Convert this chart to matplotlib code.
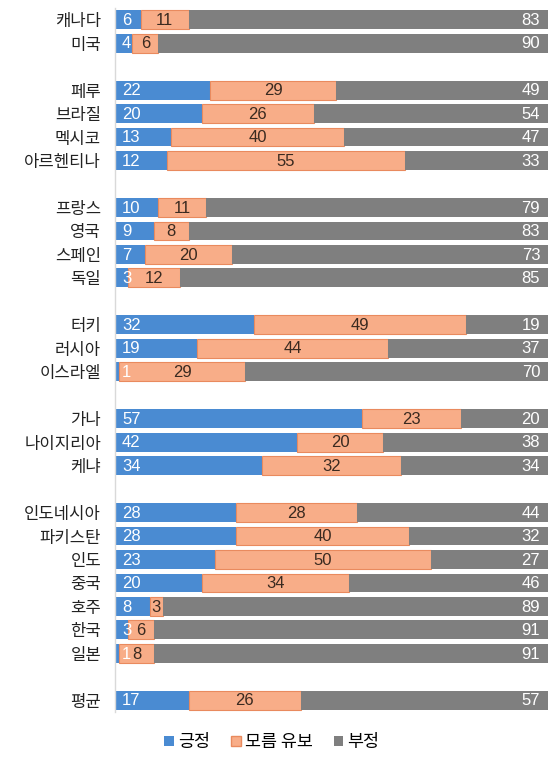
import matplotlib
matplotlib.use("Agg")
import matplotlib.pyplot as plt
from matplotlib.patches import Patch

plt.rcParams['font.family'] = ['Noto Sans CJK KR', 'DejaVu Sans']

countries = ['캐나다', '미국', None, '페루', '브라질', '멕시코', '아르헨티나', None,
             '프랑스', '영국', '스페인', '독일', None, '터키', '러시아', '이스라엘', None,
             '가나', '나이지리아', '케냐', None, '인도네시아', '파키스탄', '인도', '중국',
             '호주', '한국', '일본', None, '평균']
positive = [6, 4, None, 22, 20, 13, 12, None, 10, 9, 7, 3, None, 32, 19, 1, None,
            57, 42, 34, None, 28, 28, 23, 20, 8, 3, 1, None, 17]
neutral = [11, 6, None, 29, 26, 40, 55, None, 11, 8, 20, 12, None, 49, 44, 29, None,
           23, 20, 32, None, 28, 40, 50, 34, 3, 6, 8, None, 26]
negative = [83, 90, None, 49, 54, 47, 33, None, 79, 83, 73, 85, None, 19, 37, 70, None,
            20, 38, 34, None, 44, 32, 27, 46, 89, 91, 91, None, 57]
legend_labels = ['긍정', '모름 유보', '부정']

c_pos = '#4a8bd2'
c_neu = '#f8ad88'
c_neu_edge = '#e98a5e'
c_neg = '#7f7f7f'

fig = plt.figure(figsize=(5.55, 7.63), dpi=100)
ax = fig.add_axes([115/555, 1 - 712/763, (548-115)/555, (712-8)/763])

num_font = ['Liberation Sans Narrow', 'Liberation Sans', 'DejaVu Sans']
h = 0.8
for i, name in enumerate(countries):
    if name is None:
        continue
    p, n, g = positive[i], neutral[i], negative[i]
    ax.barh(i, p, height=h, color=c_pos, linewidth=0)
    ax.barh(i, n, left=p, height=h, color=c_neu, edgecolor=c_neu_edge, linewidth=0.8)
    ax.barh(i, g, left=p + n, height=h, color=c_neg, linewidth=0)
    ax.text(1.6, i + 0.03, str(p), ha='left', va='center', color='white',
            fontsize=12, family=num_font)
    ax.text(p + n / 2, i + 0.03, str(n), ha='center', va='center', color='#3a2a20',
            fontsize=12, family=num_font)
    ax.text(98.2, i + 0.03, str(g), ha='right', va='center', color='white',
            fontsize=12, family=num_font)

ax.set_xlim(0, 100)
ax.set_ylim(len(countries) - 0.5, -0.5)
ticks = [i for i, c in enumerate(countries) if c is not None]
ax.set_yticks(ticks)
ax.set_yticklabels([countries[i] for i in ticks], fontsize=12, color='#222222')
ax.tick_params(axis='y', length=0, pad=10)
ax.set_xticks([])
for s in ['top', 'right', 'bottom']:
    ax.spines[s].set_visible(False)
ax.spines['left'].set_color('#d9d9d9')
ax.spines['left'].set_linewidth(1)

handles = [Patch(facecolor=c_pos), Patch(facecolor=c_neu, edgecolor=c_neu_edge),
           Patch(facecolor=c_neg)]
fig.legend(handles, legend_labels, loc='center', bbox_to_anchor=(272/555, 1 - 742/763),
           ncol=3, frameon=False, fontsize=12.5, handlelength=0.55, handleheight=0.55,
           handletextpad=0.25, columnspacing=1.2)

fig.savefig('out.png', dpi=100)
